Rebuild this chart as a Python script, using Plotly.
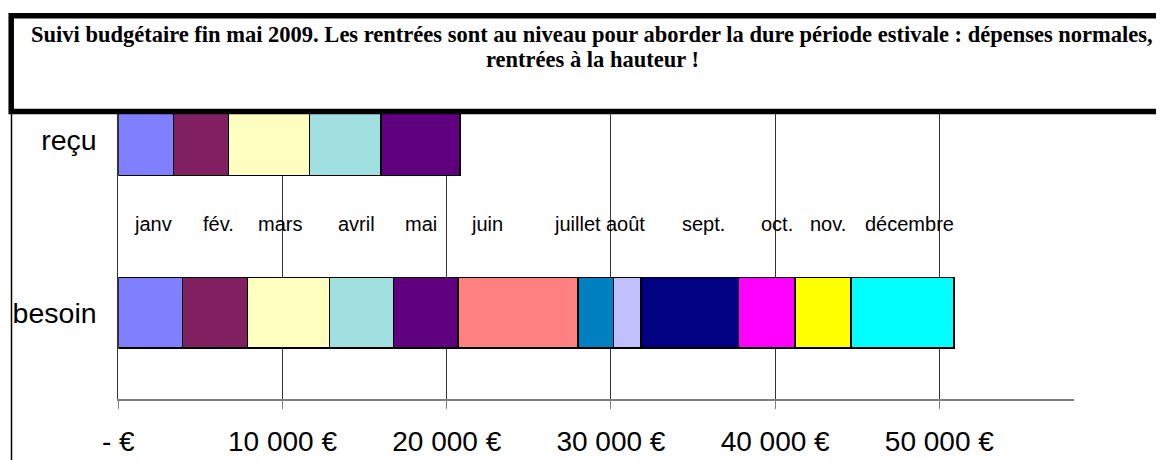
import plotly.graph_objects as go

# ---------------- data ----------------
months = ["janv", "fév.", "mars", "avril", "mai", "juin", "juillet", "août",
          "sept.", "oct.", "nov.", "décembre"]
besoin = [3900, 3980, 4990, 3900, 3930, 7290, 2160, 1670, 5960, 3440, 3400, 6280]
recu = [3370, 3330, 4950, 4350, 4810]
categories = ["besoin", "reçu"]
tick_values = [0, 10000, 20000, 30000, 40000, 50000]
tick_labels = ["- €", "10 000 €", "20 000 €", "30 000 €", "40 000 €", "50 000 €"]
title_lines = ["Suivi budgétaire fin mai 2009. Les rentrées sont au niveau pour aborder la dure période estivale : dépenses normales,",
               "rentrées à la hauteur !"]

# ---------------- style ----------------
colors = ["#8080FF", "#802060", "#FFFFC0", "#A0E0E0", "#600080", "#FF8080",
          "#0080C0", "#C0C0FF", "#000080", "#FF00FF", "#FFFF00", "#00FFFF"]
label_x_px = [131.7, 200.7, 256, 336, 402.7, 469.3, 552.3, 604.3, 680, 758.7, 808.3, 863.3]

W, H = 1164, 460
OFF = 8  # page body margin offset


def px_x(x):
    return (x - OFF) / W


def px_y(y):
    return 1 - (y - OFF) / H


SANS = "Liberation Sans, Arial, sans-serif"
SERIF = "Liberation Serif, Times New Roman, serif"

fig = go.Figure()
for i, m in enumerate(months):
    r = recu[i] if i < len(recu) else None
    fig.add_trace(go.Bar(
        y=categories, x=[besoin[i], r], name=m, orientation="h",
        marker=dict(color=colors[i], line=dict(color="#000000", width=1.5)),
        width=0.406, showlegend=False, hoverinfo="x+name"))

fig.update_layout(
    width=W, height=H, barmode="stack",
    paper_bgcolor="white", plot_bgcolor="white",
    margin=dict(l=0, r=0, t=0, b=0, autoexpand=False),
    font=dict(family=SANS, color="#000000"),
    xaxis=dict(range=[0, 58200], domain=[px_x(118.3), px_x(1074)],
               tickvals=tick_values, ticktext=tick_labels, automargin=False,
               showgrid=True, gridcolor="#333333", gridwidth=1,
               zeroline=False, showline=True, linecolor="#808080", linewidth=2,
               ticks="outside", ticklen=8, tickcolor="#808080", tickwidth=1,
               tickfont=dict(size=28, family=SANS),
               ticklabelstandoff=8),
    yaxis=dict(categoryorder="array", categoryarray=categories, automargin=False,
               range=[-0.5, 1.5], domain=[px_y(399), px_y(54)],
               showgrid=False, zeroline=False, showline=True,
               linecolor="#333333", linewidth=1, ticks="",
               tickfont=dict(size=28.5, family=SANS),
               ticklabelstandoff=15),
)

# month labels row (legend-like)
for i, m in enumerate(months):
    fig.add_annotation(x=px_x(label_x_px[i]), y=px_y(223.5), xref="paper", yref="paper",
                       text=m, showarrow=False, xanchor="left", yanchor="middle",
                       font=dict(size=20, family=SANS, color="#000000"))

# chart-area left border
fig.add_shape(type="line", xref="paper", yref="paper",
              x0=px_x(11.5), x1=px_x(11.5), y0=px_y(111), y1=px_y(470),
              line=dict(color="#000000", width=1.5), layer="above")

# title box
fig.add_shape(type="rect", xref="paper", yref="paper",
              x0=px_x(11.2), x1=px_x(1190), y0=px_y(111.6), y1=px_y(15.8),
              line=dict(color="#000000", width=5.5), fillcolor="white", layer="above")
fig.add_annotation(x=px_x(592), y=px_y(34), xref="paper", yref="paper",
                   text="<b>" + title_lines[0] + "</b>", showarrow=False,
                   xanchor="center", yanchor="middle",
                   font=dict(size=22.5, family=SERIF, color="#000000"))
fig.add_annotation(x=px_x(592), y=px_y(59), xref="paper", yref="paper",
                   text="<b>" + title_lines[1] + "</b>", showarrow=False,
                   xanchor="center", yanchor="middle",
                   font=dict(size=22.5, family=SERIF, color="#000000"))

fig.write_html("out.html")
